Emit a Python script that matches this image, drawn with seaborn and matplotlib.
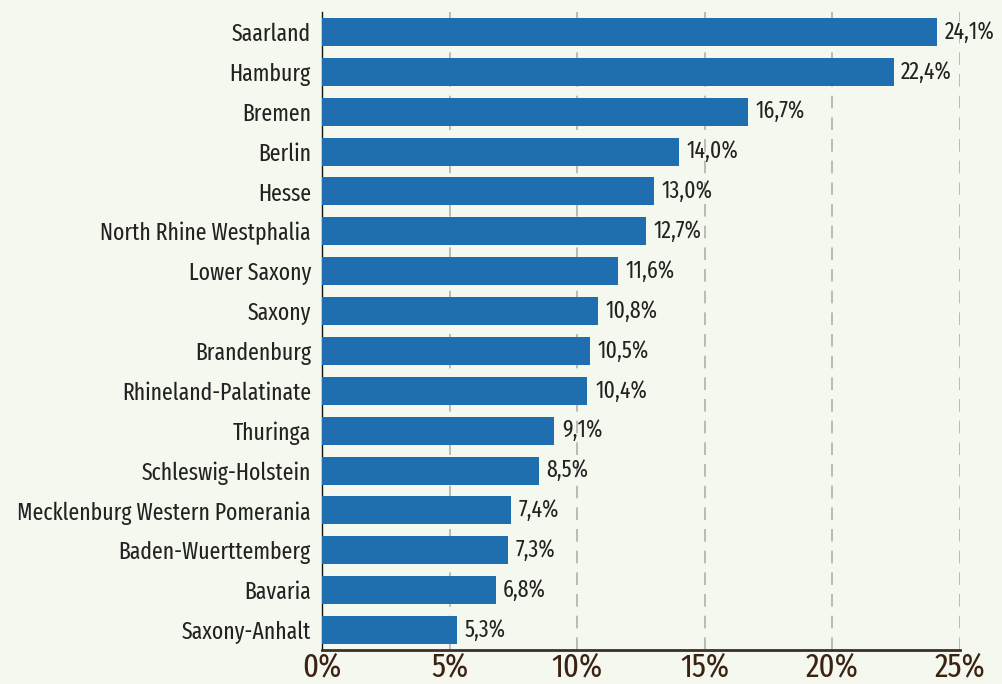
import matplotlib
matplotlib.use("Agg")
import matplotlib.pyplot as plt
import seaborn as sns
import pandas as pd

states = ["Saarland", "Hamburg", "Bremen", "Berlin", "Hesse", "North Rhine Westphalia",
          "Lower Saxony", "Saxony", "Brandenburg", "Rhineland-Palatinate", "Thuringa",
          "Schleswig-Holstein", "Mecklenburg Western Pomerania", "Baden-Wuerttemberg",
          "Bavaria", "Saxony-Anhalt"]
shares = [24.1, 22.4, 16.7, 14.0, 13.0, 12.7, 11.6, 10.8, 10.5, 10.4, 9.1, 8.5, 7.4, 7.3, 6.8, 5.3]
x_ticks = [0, 5, 10, 15, 20, 25]

df = pd.DataFrame({"state": states, "share": shares})

bg = "#f5f8ef"
sns.set_style("white")
plt.rcParams['font.family'] = ['Fira Sans Extra Condensed', 'Fira Sans Condensed', 'DejaVu Sans']

fig = plt.figure(figsize=(10.02, 6.84), dpi=100, facecolor=bg)
ax = fig.add_axes([322 / 1002, 1 - 650 / 684, (960 - 322) / 1002, (650 - 12) / 684])
ax.set_facecolor(bg)

sns.barplot(data=df, x="share", y="state", color="#1f6fb0", width=0.7, saturation=1,
            linewidth=0, ax=ax, zorder=3)

ax.set_xlim(0, 25)
ax.set_xticks(x_ticks)
ax.set_xticklabels([f"{t}%" for t in x_ticks], fontsize=24, color="#3b2314")
ax.tick_params(axis="x", length=0, pad=1)
ax.tick_params(axis="y", length=0, pad=8, labelsize=17, labelcolor="#222222")
for t in x_ticks[1:]:
    ax.axvline(t, color="#b5b5b5", linestyle=(0, (7, 5)), linewidth=1.3, zorder=1)

for y, v in enumerate(shares):
    ax.text(v + 0.3, y, f"{v:.1f}%".replace(".", ","), va="center", ha="left",
            fontsize=17, color="#222222", zorder=4)

ax.set_xlabel("")
ax.set_ylabel("")
for side in ["top", "right"]:
    ax.spines[side].set_visible(False)
ax.spines["left"].set_color("#111111")
ax.spines["left"].set_linewidth(1)
ax.spines["bottom"].set_color("#3b2f2a")
ax.spines["bottom"].set_linewidth(2)

fig.savefig("out.png", dpi=100, facecolor=bg)
